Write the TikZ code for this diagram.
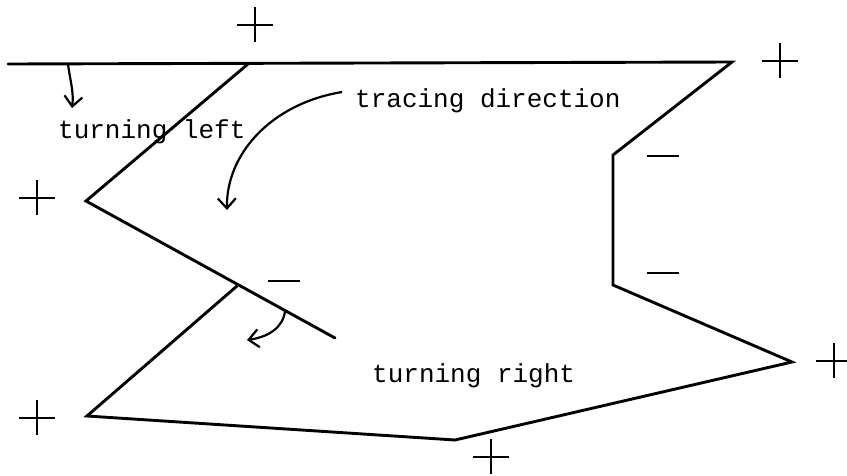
\documentclass[tikz,border=0pt]{standalone}
\usepackage{fontspec}
\setmonofont{Liberation Mono}
\usetikzlibrary{arrows.meta}
\begin{document}
\begin{tikzpicture}[x=1pt,y=-1pt,
  outline/.style={line width=2.9pt,line join=miter,line cap=round},
  sign/.style={line width=2.6pt},
  turnarrow/.style={line width=2.2pt,-{Straight Barb[length=10pt,width=18pt,line width=2.2pt]}},
  lbl/.style={font=\fontsize{26}{30}\selectfont\ttfamily,anchor=base west,inner sep=0pt},
  pics/plussign/.style={code={\draw[sign] (-18,0) -- (18,0) (0,-18) -- (0,17);}},
  pics/minussign/.style={code={\draw[sign] (-16,0) -- (16,0);}}]
\useasboundingbox (0,0) rectangle (847,475);
% vertices
\coordinate (L0) at (8,64);
\coordinate (TR) at (732,62);
\coordinate (I1) at (613,155);
\coordinate (I2) at (613,285);
\coordinate (R) at (792,362);
\coordinate (B) at (455,440);
\coordinate (BL) at (87,416);
\coordinate (J) at (237,286);
\coordinate (T) at (248,64);
\coordinate (LV) at (86,201);
\coordinate (E) at (335,338);
% outlines
\draw[outline] (L0) -- (TR) -- (I1) -- (I2) -- (R) -- (B) -- (BL) -- (J);
\draw[outline] (T) -- (LV) -- (E);
% labels
\node[lbl] (tl) at (58,138) {turning left};
\node[lbl] (td) at (355,107) {tracing direction};
\node[lbl] (tr) at (372,382) {turning right};
% arrows
\coordinate (a1s) at (68,64);
\coordinate (a1e) at (72,108);
\draw[turnarrow] (a1s) .. controls (70,80) and (74,92) .. (a1e);
\coordinate (a2s) at (342,92);
\coordinate (a2e) at (227,210);
\draw[turnarrow] (a2s) .. controls (270,104) and (226,155) .. (a2e);
\coordinate (a3s) at (285,311);
\coordinate (a3e) at (247,340);
\draw[turnarrow] (a3s) .. controls (283,328) and (268,337) .. (a3e);
% signs
\pic at (255,25) {plussign};
\pic at (780,61) {plussign};
\pic at (37,198) {plussign};
\pic at (37,418) {plussign};
\pic at (491,457) {plussign};
\pic at (834,361) {plussign};
\pic at (663,156) {minussign};
\pic at (663,273) {minussign};
\pic at (284,281) {minussign};
\end{tikzpicture}
\end{document}
